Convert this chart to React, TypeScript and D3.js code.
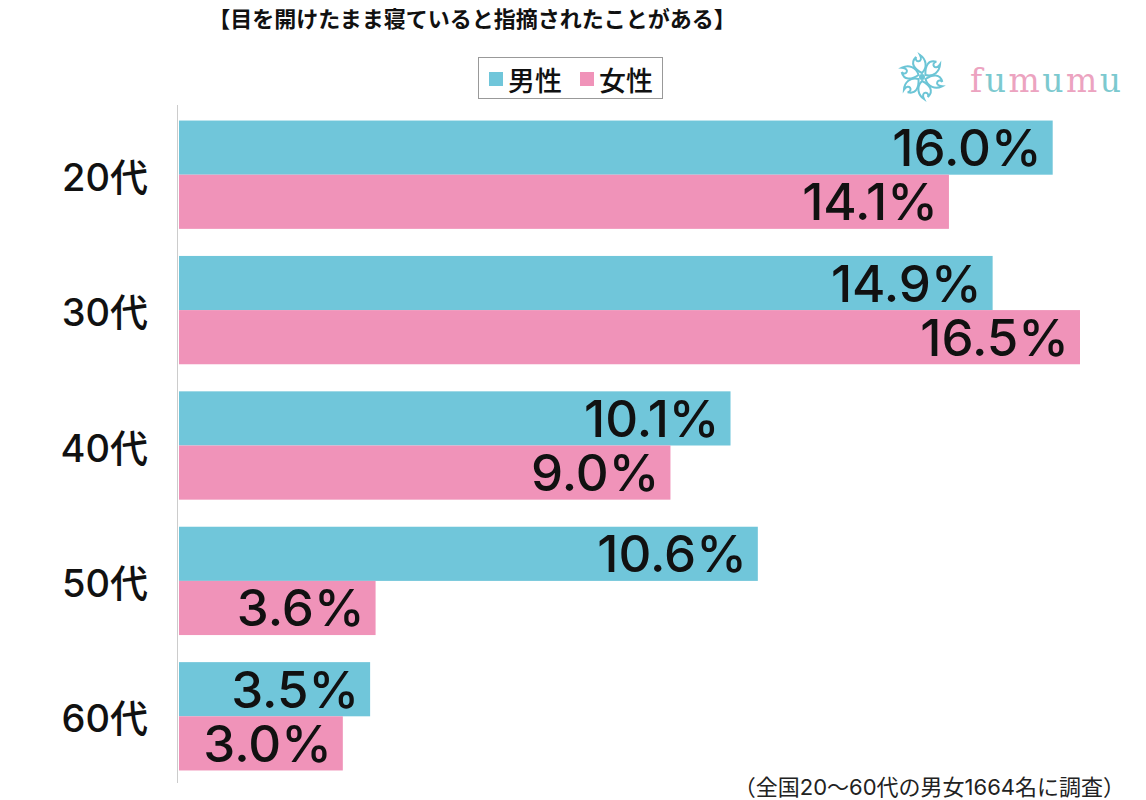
import React from "react";
import * as d3 from "d3";

const categories = ["20代", "30代", "40代", "50代", "60代"];
const male = [16.0, 14.9, 10.1, 10.6, 3.5];
const female = [14.1, 16.5, 9.0, 3.6, 3.0];
const seriesNames = ["男性", "女性"];
const title = "【目を開けたまま寝ていると指摘されたことがある】";
const footnote = "（全国20〜60代の男女1664名に調査）";

const MALE = "#70c6da";
const FEMALE = "#f093b9";
const FONT = "'Noto Sans CJK JP', 'Noto Sans', sans-serif";
const NUMFONT = "Inter, 'Noto Sans CJK JP', sans-serif";

export default function App() {
  const W = 1146, H = 800;
  const x = d3.scaleLinear().domain([0, 16.5]).range([179, 1080]);
  const y = d3.scaleBand<string>().domain(categories).range([107, 784]).paddingInner(0.2).paddingOuter(0.1);
  const bw = y.bandwidth();
  const half = bw / 2;

  const petals = d3.range(6).map((i) => i * 60);

  return (
    <svg width={W} height={H} style={{ position: "absolute", left: 0, top: 0, background: "#fff" }} fontFamily={FONT}>
      <rect width={W} height={H} fill="#fff" />
      <text x={472} y={17} textAnchor="middle" dominantBaseline="central" fontSize={22} fontWeight={700} fill="#111">{title}</text>

      {/* legend */}
      <rect x={478.5} y={57.5} width={184} height={41} fill="#fff" stroke="#999" strokeWidth={1} />
      <rect x={489} y={72} width={14} height={14} fill={MALE} />
      <text x={508} y={79} dominantBaseline="central" fontSize={27} fontWeight={500} fill="#111">{seriesNames[0]}</text>
      <rect x={580} y={72} width={14} height={14} fill={FEMALE} />
      <text x={599} y={79} dominantBaseline="central" fontSize={27} fontWeight={500} fill="#111">{seriesNames[1]}</text>

      {/* logo */}
      <g transform="translate(922,77)" fill="none" stroke="#6cc5d6" strokeWidth={2}>
        {petals.map((a) => (
          <path key={a} transform={`rotate(${a})`} d="M0,-4 C6,-10 4,-18 -2,-22 C2,-14 -8,-14 -6,-20 C-12,-14 -8,-8 0,-4 Z" />
        ))}
        <circle r={3} fill="#6cc5d6" stroke="none" />
      </g>
      <text x={970} y={92} fontFamily="'DejaVu Serif', serif" fontSize={33} letterSpacing={2.5}>
        {"fumumu".split("").map((c, i) => (
          <tspan key={i} fill={i % 2 === 0 ? "#eca3c0" : "#7cc9cf"}>{c}</tspan>
        ))}
      </text>

      {/* axis line */}
      <line x1={177.5} x2={177.5} y1={105} y2={783} stroke="#ccc" strokeWidth={1} />

      {categories.map((c, i) => {
        const y0 = y(c)!;
        return (
          <g key={c}>
            <text x={148} y={y0 + bw / 2 + 2} textAnchor="end" dominantBaseline="central" fontFamily={NUMFONT} fontSize={38} fontWeight={500} fill="#111">{c}</text>
            <rect x={x(0)} y={y0} width={x(male[i]) - x(0)} height={half} fill={MALE} />
            <rect x={x(0)} y={y0 + half} width={x(female[i]) - x(0)} height={half} fill={FEMALE} />
            <text x={x(male[i]) - 11} y={y0 + half / 2} textAnchor="end" dominantBaseline="central" fontFamily={NUMFONT} fontSize={51} fontWeight={500} fill="#111">{male[i].toFixed(1)}%</text>
            <text x={x(female[i]) - 11} y={y0 + half * 1.5} textAnchor="end" dominantBaseline="central" fontFamily={NUMFONT} fontSize={51} fontWeight={500} fill="#111">{female[i].toFixed(1)}%</text>
          </g>
        );
      })}

      <text x={1125} y={787} textAnchor="end" dominantBaseline="central" fontFamily={NUMFONT} fontSize={22} fill="#222">{footnote}</text>
    </svg>
  );
}
